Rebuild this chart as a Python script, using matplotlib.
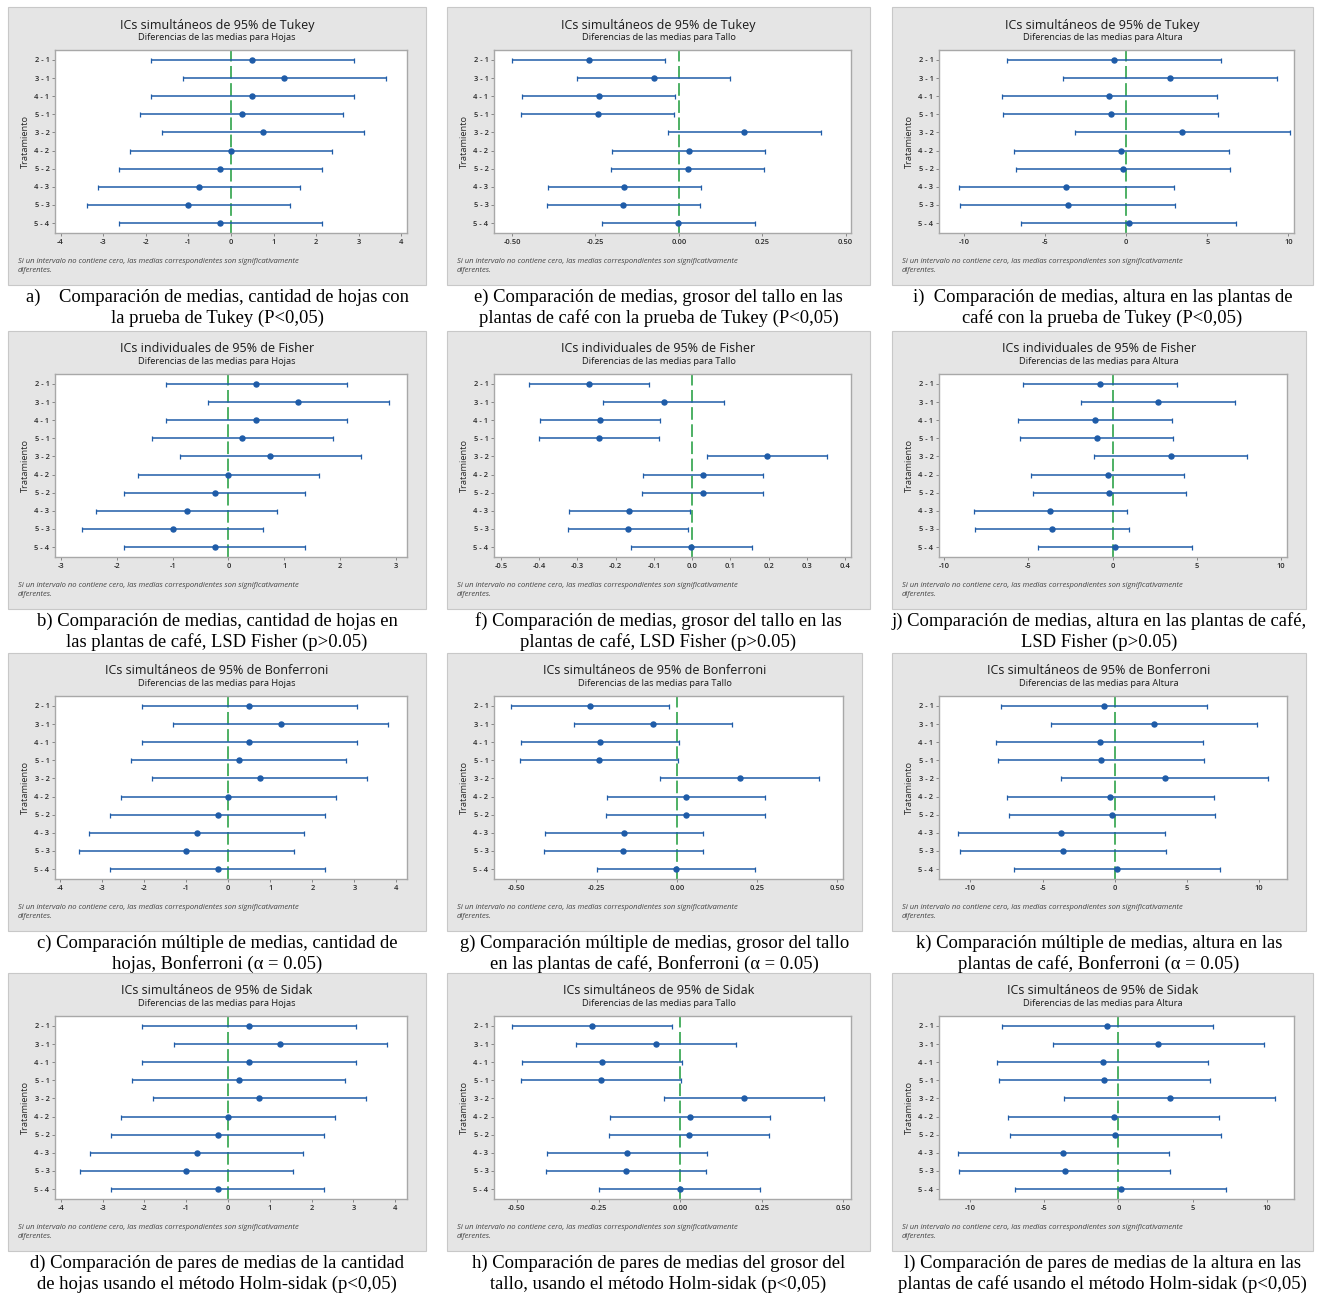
import numpy as np
import matplotlib.pyplot as plt
from matplotlib.patches import Rectangle

plt.rcParams['font.family'] = ['Open Sans', 'DejaVu Sans']
plt.rcParams['axes.unicode_minus'] = False

# comparaciones por pares entre tratamientos
comparaciones = ['2 - 1', '3 - 1', '4 - 1', '5 - 1', '3 - 2',
                 '4 - 2', '5 - 2', '4 - 3', '5 - 3', '5 - 4']

# diferencias de medias
dif_hojas = [0.5, 1.25, 0.5, 0.25, 0.75, 0.0, -0.25, -0.75, -1.0, -0.25]
dif_tallo = [-0.270, -0.075, -0.240, -0.243, 0.196, 0.029, 0.027, -0.164, -0.167, -0.002]
dif_altura = [-0.75, 2.7, -1.05, -0.95, 3.45, -0.3, -0.2, -3.7, -3.6, 0.15]

# semiamplitud de los intervalos: Tukey, Fisher, Bonferroni, Sidak
metodos = ['Tukey', 'Fisher', 'Bonferroni', 'Sidak']
titulos = ['ICs simultáneos de 95% de Tukey',
           'ICs individuales de 95% de Fisher',
           'ICs simultáneos de 95% de Bonferroni',
           'ICs simultáneos de 95% de Sidak']
semi_hojas = [2.38, 1.62, 2.56, 2.55]
semi_tallo = [0.229, 0.157, 0.247, 0.245]
semi_altura = [6.62, 4.55, 7.15, 7.10]

variables = ['Hojas', 'Tallo', 'Altura']

# limites del eje x por metodo (filas) y variable (columnas)
limites = [
    [(-4.13, 4.13), (-0.554, 0.516), (-11.54, 10.34)],
    [(-3.11, 3.20), (-0.518, 0.415), (-10.30, 10.35)],
    [(-4.12, 4.25), (-0.570, 0.518), (-12.18, 11.93)],
    [(-4.14, 4.28), (-0.570, 0.523), (-12.08, 11.83)],
]
ticks_hojas = [np.arange(-4, 5), np.arange(-3, 4), np.arange(-4, 5), np.arange(-4, 5)]
ticks_tallo = [np.round(np.arange(-0.5, 0.51, 0.25), 2), np.round(np.arange(-0.5, 0.41, 0.1), 1),
               np.round(np.arange(-0.5, 0.51, 0.25), 2), np.round(np.arange(-0.5, 0.51, 0.25), 2)]
fmt_tallo = ['{:.2f}', '{:.1f}', '{:.2f}', '{:.2f}']
ticks_altura = [np.arange(-10, 11, 5)] * 4

pies = [
    [('a)    Comparación de medias, cantidad de hojas con', 'la prueba de Tukey (P<0,05)'),
     ('e) Comparación de medias, grosor del tallo en las', 'plantas de café con la prueba de Tukey (P<0,05)'),
     ('i)  Comparación de medias, altura en las plantas de', 'café con la prueba de Tukey (P<0,05)')],
    [('b) Comparación de medias, cantidad de hojas en', 'las plantas de café, LSD Fisher (p>0.05)'),
     ('f) Comparación de medias, grosor del tallo en las', 'plantas de café, LSD Fisher (p>0.05)'),
     ('j) Comparación de medias, altura en las plantas de café,', 'LSD Fisher (p>0.05)')],
    [('c) Comparación múltiple de medias, cantidad de', 'hojas, Bonferroni (α = 0.05)'),
     ('g) Comparación múltiple de medias, grosor del tallo', 'en las plantas de café, Bonferroni (α = 0.05)'),
     ('k) Comparación múltiple de medias, altura en las', 'plantas de café, Bonferroni (α = 0.05)')],
    [('d) Comparación de pares de medias de la cantidad', 'de hojas usando el método Holm-sidak (p<0,05)'),
     ('h) Comparación de pares de medias del grosor del', 'tallo, usando el método Holm-sidak (p<0,05)'),
     ('l) Comparación de pares de medias de la altura en las', 'plantas de café usando el método Holm-sidak (p<0,05)')],
]

nota = ('Si un intervalo no contiene cero, las medias correspondientes son significativamente\n'
        'diferentes.')

W, H = 1317, 1293
col_x = [8, 447, 892]
row_y = [7, 331, 653, 973]
anchos = [[418, 423, 421], [418, 423, 414], [418, 415, 414], [418, 423, 421]]
alto = 278

azul = '#1f5ca8'
verde = '#3faa58'

fig = plt.figure(figsize=(W / 100, H / 100), dpi=100)
fig.patch.set_facecolor('white')


def fx(px):
    return px / W


def fy(py):
    return 1 - py / H


for i, metodo in enumerate(metodos):
    datos = [(dif_hojas, semi_hojas[i], ticks_hojas[i], '{:g}'),
             (dif_tallo, semi_tallo[i], ticks_tallo[i], fmt_tallo[i]),
             (dif_altura, semi_altura[i], ticks_altura[i], '{:g}')]
    for j, (dif, semi, ticks, fmt) in enumerate(datos):
        x0, y0, w = col_x[j], row_y[i], anchos[i][j]

        # fondo gris de cada grafico
        fig.patches.append(Rectangle((fx(x0), fy(y0 + alto)), w / W, alto / H,
                                     transform=fig.transFigure, facecolor='#e5e5e5',
                                     edgecolor='#c8c8c8', lw=0.8, zorder=-5))

        ax = fig.add_axes([fx(x0 + 47), fy(y0 + 226), (w - 66) / W, 183 / H])
        ax.set_zorder(2)
        ax.set_facecolor('white')
        y = np.arange(len(comparaciones))
        ax.axvline(0, color=verde, lw=1.3, dashes=(7, 2.5), zorder=1)
        ax.errorbar(dif, y, xerr=semi, fmt='o', color=azul, ms=3.6,
                    elinewidth=1.1, capsize=1.8, capthick=0.9, zorder=2)

        ax.set_xlim(*limites[i][j])
        ax.set_ylim(9.55, -0.55)
        ax.set_yticks(y)
        ax.set_yticklabels(comparaciones, fontweight='semibold')
        ax.set_xticks(ticks)
        ax.set_xticklabels([fmt.format(t + 0.0) for t in ticks], fontweight='semibold')
        ax.tick_params(labelsize=5.4, length=2, width=0.6, color='#777777',
                       labelcolor='#2a2a2a', pad=2)
        for s in ax.spines.values():
            s.set_color('#a8a8a8')
            s.set_linewidth(1.0)

        cx = x0 + w / 2
        fig.text(fx(cx), fy(y0 + 18), titulos[i], ha='center', va='center',
                 fontsize=9.0, color='#1a1a1a')
        fig.text(fx(cx), fy(y0 + 31), 'Diferencias de las medias para ' + variables[j],
                 ha='center', va='center', fontsize=6.7, color='#1a1a1a')
        fig.text(fx(x0 + 17), fy(y0 + 134), 'Tratamiento', rotation=90,
                 ha='center', va='center', fontsize=6.7, color='#2a2a2a')
        fig.text(fx(x0 + 10), fy(y0 + 251), nota, ha='left', va='top',
                 fontsize=5.5, style='italic', color='#444444', linespacing=1.3)

        l1, l2 = pies[i][j]
        fig.text(fx(cx), fy(y0 + alto + 12), l1, ha='center', va='center',
                 fontsize=13.4, family='Liberation Serif', color='black')
        fig.text(fx(cx), fy(y0 + alto + 33), l2, ha='center', va='center',
                 fontsize=13.4, family='Liberation Serif', color='black')

fig.savefig('out.png', dpi=100)
